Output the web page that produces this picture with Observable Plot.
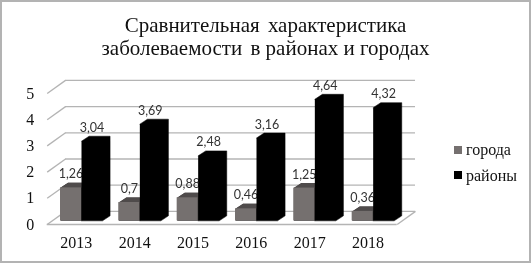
<!DOCTYPE html>
<html>
<head>
<meta charset="utf-8">
<script src="https://cdn.jsdelivr.net/npm/d3@7"></script>
<script src="https://cdn.jsdelivr.net/npm/@observablehq/plot@0.6"></script>
<style>
html,body{margin:0;padding:0;background:#fff;}
#wrap{position:relative;width:531px;height:264px;overflow:hidden;filter:blur(0.35px);}
#wrap svg{position:absolute;left:0;top:0;}
#frame{position:absolute;left:0;top:0;width:527px;height:259px;border:2px solid #b3b3b3;}
.t{position:absolute;font-family:"Liberation Serif",serif;color:#111;white-space:nowrap;}
.title{left:0;width:531px;text-align:center;font-size:21px;line-height:23px;}
.gap{word-spacing:3px;}
.leg{font-size:16px;line-height:17px;left:466px;}
.sw{position:absolute;left:454px;width:8px;height:8px;}
</style>
</head>
<body>
<div id="wrap">
  <div id="frame"></div>
  <div class="t title" style="top:14px"><span class="gap">Сравнительная характеристика</span><br><span class="gap">заболеваемости </span>в районах и городах</div>
  <div class="sw" style="top:146px;background:#75706f"></div>
  <div class="t leg" style="top:141px">города</div>
  <div class="sw" style="top:171px;background:#000"></div>
  <div class="t leg" style="top:167px">районы</div>
</div>
<script>
const years = [2013, 2014, 2015, 2016, 2017, 2018];
const cities = [1.26, 0.7, 0.88, 0.46, 1.25, 0.36];
const districts = [3.04, 3.69, 2.48, 3.16, 4.64, 4.32];
const yTicks = [0, 1, 2, 3, 4, 5];
const fmt = v => String(v).replace(".", ",");

// 3D look, in scale units
const floorDX = 0.314, floorDY = 0.5;
const barDX = 0.13, barDY = 0.19;
const baseY = 0.14, barW = 0.36, barStart = 0.228;

function silhouette(values, offset) {
  return values.flatMap((v, i) => {
    const a = i + barStart + offset, b = a + barW, top = baseY + v;
    return [[a, baseY], [b, baseY], [b + barDX, baseY + barDY], [b + barDX, top + barDY], [a + barDX, top + barDY], [a, top]]
      .map(([x, y]) => ({k: i, x, y}));
  });
}
function topFace(values, offset) {
  return values.flatMap((v, i) => {
    const a = i + barStart + offset, b = a + barW, top = baseY + v;
    return [[a, top], [b, top], [b + barDX, top + barDY], [a + barDX, top + barDY]].map(([x, y]) => ({k: i, x, y}));
  });
}
function fronts(values, offset) {
  return values.map((v, i) => ({x1: i + barStart + offset, x2: i + barStart + offset + barW, y1: baseY, y2: baseY + v}));
}
function labels(values, offset) {
  return values.map((v, i) => ({x: i + barStart + offset + barW / 2, y: baseY + v + barDY, t: fmt(v)}));
}
const gridC = "#b4b4b4";
const labelOpts = {x: "x", y: "y", text: "t", dy: -8.5, fontFamily: "Lato, sans-serif", fontSize: 12.5, fill: "#333"};

const plot = Plot.plot({
  width: 531, height: 264,
  marginLeft: 46.7, marginRight: 134.3, marginTop: 93, marginBottom: 40,
  x: {domain: [0, 6], range: [46.7, 396.7]},
  y: {domain: [0, 5], range: [224, 93]},
  style: {background: "transparent", overflow: "visible", fontFamily: "Liberation Serif, serif", fontSize: "16px"},
  marks: [
    Plot.ruleY(yTicks, {y: d => d + floorDY, x1: floorDX, x2: 6 + floorDX, stroke: gridC, strokeWidth: 1.3}),
    Plot.link(yTicks, {x1: 0, x2: floorDX, y1: d => d, y2: d => d + floorDY, stroke: gridC, strokeWidth: 1.3}),
    Plot.ruleY([0], {x1: 0, x2: 6, stroke: gridC, strokeWidth: 1.3}),
    Plot.link([0], {x1: 6, x2: 6 + floorDX, y1: 0, y2: floorDY, stroke: gridC, strokeWidth: 1.3}),
    Plot.axisY({ticks: yTicks, tickSize: 0, tickPadding: 13, label: null, tickFormat: d => String(d), fill: "#111"}),
    Plot.axisX({ticks: years.map((d, i) => i + 0.5), tickFormat: d => String(years[Math.floor(d)]), tickSize: 0, tickPadding: 12, label: null, fill: "#111"}),
    // города
    Plot.line(silhouette(cities, 0), {x: "x", y: "y", z: "k", fill: "#3a3737", stroke: null}),
    Plot.line(topFace(cities, 0), {x: "x", y: "y", z: "k", fill: "#4f4b4b", stroke: null}),
    Plot.rect(fronts(cities, 0), {x1: "x1", x2: "x2", y1: "y1", y2: "y2", fill: "#75706f"}),
    Plot.text(labels(cities, 0), labelOpts),
    // районы
    Plot.line(silhouette(districts, barW), {x: "x", y: "y", z: "k", fill: "#000", stroke: "#000", strokeWidth: 0.5}),
    Plot.text(labels(districts, barW), labelOpts)
  ]
});
document.getElementById("wrap").prepend(plot);
</script>
</body>
</html>
